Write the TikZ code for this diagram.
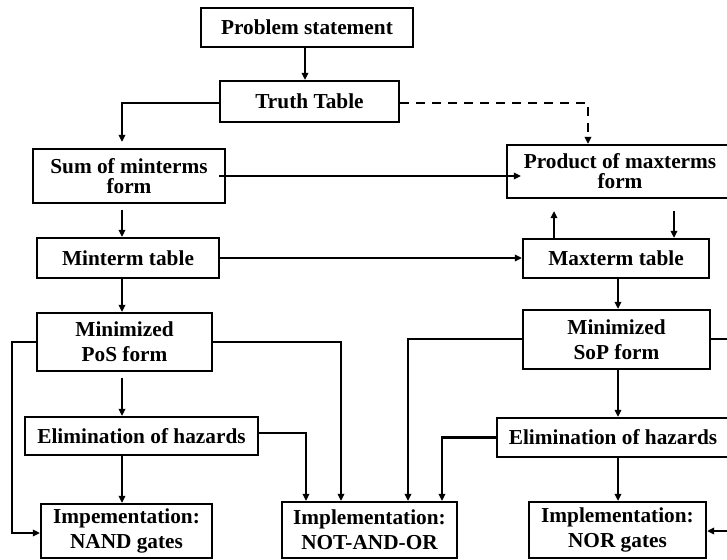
\documentclass[tikz,border=0pt]{standalone}
\usepackage{fontspec}
\setmainfont{Liberation Serif}
\usepackage{tikz}
\usetikzlibrary{arrows.meta,positioning,calc}

\begin{document}
\begin{tikzpicture}[x=1pt,y=-1pt,line width=2.2pt,>={Triangle[length=7pt,width=6.5pt]},
 n/.style={draw,line width=2.2pt,inner sep=0pt,align=center,font=\fontsize{21.3}{25}\selectfont\bfseries},
 nt/.style={n,font=\fontsize{21.3}{20}\selectfont\bfseries}]
\useasboundingbox (0,0) rectangle (727,559);
\node[n,minimum width=212pt,minimum height=39pt] (prob) at (307,27.5) {Problem statement};
\node[n,minimum width=179pt,minimum height=41pt] (tt) at (309.5,101.5) {Truth Table};
\node[nt,minimum width=192pt,minimum height=54pt] (sum) at (129,176) {Sum of minterms\\form};
\node[nt,minimum width=226pt,minimum height=53pt] (prod) at (620,171.5) {Product of maxterms\\form};
\node[n,minimum width=182pt,minimum height=40pt] (mint) at (128,258) {Minterm table};
\node[n,minimum width=186pt,minimum height=39pt] (maxt) at (616,258.5) {Maxterm table};
\node[n,minimum width=175pt,minimum height=58pt] (pos) at (124.5,342) {Minimized\\PoS form};
\node[n,minimum width=187pt,minimum height=59pt] (sop) at (616.5,339.5) {Minimized\\SoP form};
\node[n,minimum width=233pt,minimum height=38pt] (elimL) at (141.5,436) {Elimination of hazards};
\node[n,minimum width=232pt,minimum height=39pt] (elimR) at (613,437.5) {Elimination of hazards};
\node[n,minimum width=171pt,minimum height=54pt] (nand) at (126.5,531) {Impementation:\\NAND gates};
\node[n,minimum width=175pt,minimum height=56pt] (naor) at (369.5,530) {Implementation:\\NOT-AND-OR};
\node[n,minimum width=177pt,minimum height=56pt] (nor) at (617.5,530) {Implementation:\\NOR gates};
% top part
\draw[->] ([xshift=-2pt]prob.south) -- ([xshift=-2pt]prob.south |- tt.north);
\draw[->,shorten >=6pt] ([yshift=-1.5pt]tt.west) -| ([xshift=-7pt]sum.north);
\draw[->,dashed,dash pattern=on 9pt off 7pt] ([yshift=-1.5pt]tt.east) -| ([xshift=-32pt]prod.north);
\draw[->,shorten <=-7pt,shorten >=-15pt] (sum.east) -- (sum.east -| prod.west);
\draw[->,shorten <=6pt] ([xshift=-7pt]sum.south) -- ([xshift=-7pt]sum.south |- mint.north);
\draw[->] (mint.east) -- (mint.east -| maxt.west);
\draw[->,shorten >=12pt] ([xshift=-62pt]maxt.north) -- ([xshift=-62pt]maxt.north |- prod.south);
\draw[->,shorten <=12pt] ([xshift=58pt]maxt.north |- prod.south) -- ([xshift=58pt]maxt.north);
% left column
\draw[->] ([xshift=-6pt]mint.south) -- ([xshift=-6pt]mint.south |- pos.north);
\draw[->,shorten <=6pt] ([xshift=-2.5pt]pos.south) -- ([xshift=-2.5pt]pos.south |- elimL.north);
\draw[->] ([xshift=-19.5pt]elimL.south) -- ([xshift=-19.5pt]elimL.south |- nand.north);
\draw[->] (pos.west) -- ++(-24,0) |- ([yshift=-2pt]nand.west);
% into NOT-AND-OR
\draw[->] (pos.east) -| ([xshift=-28.5pt]naor.north);
\draw[->] ([yshift=3pt]elimL.east) -| ([xshift=-63.5pt]naor.north);
\draw[->] ([yshift=0.5pt]sop.west) -| ([xshift=38.5pt]naor.north);
\draw[->] (elimR.west) -| ([xshift=72.5pt]naor.north);
% right column
\draw[->] ([xshift=2pt]maxt.south) -- ([xshift=2pt]maxt.south |- sop.north);
\draw[->] ([xshift=1.5pt]sop.south) -- ([xshift=1.5pt]sop.south |- elimR.north);
\draw[->] ([xshift=0.5pt]nor.north |- elimR.south) -- ([xshift=0.5pt]nor.north);
\draw[->] ([yshift=0.5pt]sop.east) -- ++(25,0) |- ([yshift=-1pt]nor.east);
\end{tikzpicture}
\end{document}
